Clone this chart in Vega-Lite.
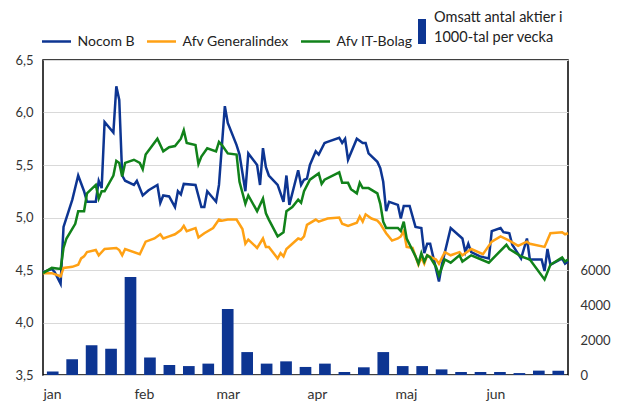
{
  "$schema": "https://vega.github.io/schema/vega-lite/v6.json",
  "width": 525,
  "height": 315,
  "autosize": {"type": "none"},
  "padding": {"left": 43, "top": 60, "right": 61, "bottom": 28},
  "background": "white",
  "config": {
    "view": {"stroke": "#000", "strokeWidth": 1.5},
    "font": "Lato",
    "axis": {"labelFont": "Lato", "labelFontSize": 13, "labelColor": "#333", "ticks": false, "domain": false, "titleFontSize": 0},
    "legend": {"labelFont": "Lato", "labelFontSize": 14.5, "labelColor": "#222"},
    "style": {"guide-label": {"lineHeight": 20}}
  },
  "datasets": {
    "vol": [
      {"w": 1, "n": 200}, {"w": 2, "n": 900}, {"w": 3, "n": 1700}, {"w": 4, "n": 1500}, {"w": 5, "n": 5600},
      {"w": 6, "n": 1000}, {"w": 7, "n": 570}, {"w": 8, "n": 510}, {"w": 9, "n": 650}, {"w": 10, "n": 3770},
      {"w": 11, "n": 1310}, {"w": 12, "n": 650}, {"w": 13, "n": 780}, {"w": 14, "n": 460}, {"w": 15, "n": 650},
      {"w": 16, "n": 170}, {"w": 17, "n": 440}, {"w": 18, "n": 1310}, {"w": 19, "n": 510}, {"w": 20, "n": 510},
      {"w": 21, "n": 320}, {"w": 22, "n": 170}, {"w": 23, "n": 170}, {"w": 24, "n": 170}, {"w": 25, "n": 110},
      {"w": 26, "n": 250}, {"w": 27, "n": 250}
    ],
    "kurs": [
      {"d": "2001-01-01", "s": "Nocom B", "v": 4.48},
      {"d": "2001-01-04", "s": "Nocom B", "v": 4.51},
      {"d": "2001-01-05", "s": "Nocom B", "v": 4.48},
      {"d": "2001-01-07", "s": "Nocom B", "v": 4.37},
      {"d": "2001-01-08", "s": "Nocom B", "v": 4.91},
      {"d": "2001-01-11", "s": "Nocom B", "v": 5.17},
      {"d": "2001-01-13", "s": "Nocom B", "v": 5.40},
      {"d": "2001-01-15", "s": "Nocom B", "v": 5.25},
      {"d": "2001-01-16", "s": "Nocom B", "v": 5.15},
      {"d": "2001-01-19", "s": "Nocom B", "v": 5.15},
      {"d": "2001-01-20", "s": "Nocom B", "v": 5.35},
      {"d": "2001-01-21", "s": "Nocom B", "v": 5.28},
      {"d": "2001-01-22", "s": "Nocom B", "v": 5.91},
      {"d": "2001-01-25", "s": "Nocom B", "v": 5.81},
      {"d": "2001-01-26", "s": "Nocom B", "v": 6.25},
      {"d": "2001-01-27", "s": "Nocom B", "v": 6.12},
      {"d": "2001-01-28", "s": "Nocom B", "v": 5.40},
      {"d": "2001-01-29", "s": "Nocom B", "v": 5.35},
      {"d": "2001-02-01", "s": "Nocom B", "v": 5.31},
      {"d": "2001-02-02", "s": "Nocom B", "v": 5.35},
      {"d": "2001-02-04", "s": "Nocom B", "v": 5.21},
      {"d": "2001-02-06", "s": "Nocom B", "v": 5.26},
      {"d": "2001-02-09", "s": "Nocom B", "v": 5.31},
      {"d": "2001-02-10", "s": "Nocom B", "v": 5.14},
      {"d": "2001-02-11", "s": "Nocom B", "v": 5.21},
      {"d": "2001-02-13", "s": "Nocom B", "v": 5.20},
      {"d": "2001-02-15", "s": "Nocom B", "v": 5.10},
      {"d": "2001-02-16", "s": "Nocom B", "v": 5.25},
      {"d": "2001-02-17", "s": "Nocom B", "v": 5.22},
      {"d": "2001-02-18", "s": "Nocom B", "v": 5.32},
      {"d": "2001-02-22", "s": "Nocom B", "v": 5.31},
      {"d": "2001-02-24", "s": "Nocom B", "v": 5.10},
      {"d": "2001-02-25", "s": "Nocom B", "v": 5.10},
      {"d": "2001-02-26", "s": "Nocom B", "v": 5.25},
      {"d": "2001-03-01", "s": "Nocom B", "v": 5.15},
      {"d": "2001-03-02", "s": "Nocom B", "v": 5.31},
      {"d": "2001-03-04", "s": "Nocom B", "v": 6.06},
      {"d": "2001-03-05", "s": "Nocom B", "v": 5.90},
      {"d": "2001-03-08", "s": "Nocom B", "v": 5.69},
      {"d": "2001-03-09", "s": "Nocom B", "v": 5.60},
      {"d": "2001-03-11", "s": "Nocom B", "v": 5.25},
      {"d": "2001-03-12", "s": "Nocom B", "v": 5.61},
      {"d": "2001-03-15", "s": "Nocom B", "v": 5.50},
      {"d": "2001-03-16", "s": "Nocom B", "v": 5.31},
      {"d": "2001-03-17", "s": "Nocom B", "v": 5.66},
      {"d": "2001-03-18", "s": "Nocom B", "v": 5.48},
      {"d": "2001-03-19", "s": "Nocom B", "v": 5.40},
      {"d": "2001-03-22", "s": "Nocom B", "v": 5.31},
      {"d": "2001-03-24", "s": "Nocom B", "v": 5.15},
      {"d": "2001-03-25", "s": "Nocom B", "v": 5.40},
      {"d": "2001-03-26", "s": "Nocom B", "v": 5.12},
      {"d": "2001-03-29", "s": "Nocom B", "v": 5.45},
      {"d": "2001-03-30", "s": "Nocom B", "v": 5.31},
      {"d": "2001-03-31", "s": "Nocom B", "v": 5.36},
      {"d": "2001-04-01", "s": "Nocom B", "v": 5.37},
      {"d": "2001-04-02", "s": "Nocom B", "v": 5.50},
      {"d": "2001-04-04", "s": "Nocom B", "v": 5.63},
      {"d": "2001-04-05", "s": "Nocom B", "v": 5.60},
      {"d": "2001-04-07", "s": "Nocom B", "v": 5.71},
      {"d": "2001-04-08", "s": "Nocom B", "v": 5.72},
      {"d": "2001-04-12", "s": "Nocom B", "v": 5.76},
      {"d": "2001-04-13", "s": "Nocom B", "v": 5.71},
      {"d": "2001-04-14", "s": "Nocom B", "v": 5.75},
      {"d": "2001-04-15", "s": "Nocom B", "v": 5.55},
      {"d": "2001-04-18", "s": "Nocom B", "v": 5.75},
      {"d": "2001-04-20", "s": "Nocom B", "v": 5.71},
      {"d": "2001-04-21", "s": "Nocom B", "v": 5.71},
      {"d": "2001-04-22", "s": "Nocom B", "v": 5.61},
      {"d": "2001-04-25", "s": "Nocom B", "v": 5.53},
      {"d": "2001-04-26", "s": "Nocom B", "v": 5.47},
      {"d": "2001-04-27", "s": "Nocom B", "v": 5.34},
      {"d": "2001-04-28", "s": "Nocom B", "v": 5.06},
      {"d": "2001-04-29", "s": "Nocom B", "v": 5.15},
      {"d": "2001-05-02", "s": "Nocom B", "v": 5.12},
      {"d": "2001-05-03", "s": "Nocom B", "v": 4.99},
      {"d": "2001-05-04", "s": "Nocom B", "v": 5.11},
      {"d": "2001-05-06", "s": "Nocom B", "v": 5.11},
      {"d": "2001-05-08", "s": "Nocom B", "v": 4.91},
      {"d": "2001-05-10", "s": "Nocom B", "v": 4.90},
      {"d": "2001-05-11", "s": "Nocom B", "v": 4.66},
      {"d": "2001-05-12", "s": "Nocom B", "v": 4.75},
      {"d": "2001-05-13", "s": "Nocom B", "v": 4.75},
      {"d": "2001-05-14", "s": "Nocom B", "v": 4.63},
      {"d": "2001-05-16", "s": "Nocom B", "v": 4.39},
      {"d": "2001-05-17", "s": "Nocom B", "v": 4.55},
      {"d": "2001-05-20", "s": "Nocom B", "v": 4.90},
      {"d": "2001-05-24", "s": "Nocom B", "v": 4.80},
      {"d": "2001-05-25", "s": "Nocom B", "v": 4.67},
      {"d": "2001-05-26", "s": "Nocom B", "v": 4.75},
      {"d": "2001-05-27", "s": "Nocom B", "v": 4.67},
      {"d": "2001-05-30", "s": "Nocom B", "v": 4.63},
      {"d": "2001-06-02", "s": "Nocom B", "v": 4.61},
      {"d": "2001-06-03", "s": "Nocom B", "v": 4.87},
      {"d": "2001-06-06", "s": "Nocom B", "v": 4.90},
      {"d": "2001-06-07", "s": "Nocom B", "v": 4.86},
      {"d": "2001-06-09", "s": "Nocom B", "v": 4.85},
      {"d": "2001-06-10", "s": "Nocom B", "v": 4.74},
      {"d": "2001-06-13", "s": "Nocom B", "v": 4.61},
      {"d": "2001-06-15", "s": "Nocom B", "v": 4.80},
      {"d": "2001-06-16", "s": "Nocom B", "v": 4.60},
      {"d": "2001-06-20", "s": "Nocom B", "v": 4.60},
      {"d": "2001-06-21", "s": "Nocom B", "v": 4.49},
      {"d": "2001-06-22", "s": "Nocom B", "v": 4.70},
      {"d": "2001-06-23", "s": "Nocom B", "v": 4.55},
      {"d": "2001-06-27", "s": "Nocom B", "v": 4.61},
      {"d": "2001-06-28", "s": "Nocom B", "v": 4.56},
      {"d": "2001-06-29", "s": "Nocom B", "v": 4.58},

      {"d": "2001-01-01", "s": "Afv Generalindex", "v": 4.47},
      {"d": "2001-01-04", "s": "Afv Generalindex", "v": 4.47},
      {"d": "2001-01-07", "s": "Afv Generalindex", "v": 4.44},
      {"d": "2001-01-08", "s": "Afv Generalindex", "v": 4.52},
      {"d": "2001-01-11", "s": "Afv Generalindex", "v": 4.53},
      {"d": "2001-01-13", "s": "Afv Generalindex", "v": 4.55},
      {"d": "2001-01-14", "s": "Afv Generalindex", "v": 4.61},
      {"d": "2001-01-15", "s": "Afv Generalindex", "v": 4.63},
      {"d": "2001-01-16", "s": "Afv Generalindex", "v": 4.67},
      {"d": "2001-01-19", "s": "Afv Generalindex", "v": 4.69},
      {"d": "2001-01-20", "s": "Afv Generalindex", "v": 4.64},
      {"d": "2001-01-22", "s": "Afv Generalindex", "v": 4.70},
      {"d": "2001-01-26", "s": "Afv Generalindex", "v": 4.71},
      {"d": "2001-01-27", "s": "Afv Generalindex", "v": 4.69},
      {"d": "2001-01-28", "s": "Afv Generalindex", "v": 4.64},
      {"d": "2001-01-29", "s": "Afv Generalindex", "v": 4.70},
      {"d": "2001-02-03", "s": "Afv Generalindex", "v": 4.65},
      {"d": "2001-02-05", "s": "Afv Generalindex", "v": 4.77},
      {"d": "2001-02-08", "s": "Afv Generalindex", "v": 4.80},
      {"d": "2001-02-10", "s": "Afv Generalindex", "v": 4.84},
      {"d": "2001-02-11", "s": "Afv Generalindex", "v": 4.80},
      {"d": "2001-02-13", "s": "Afv Generalindex", "v": 4.82},
      {"d": "2001-02-15", "s": "Afv Generalindex", "v": 4.84},
      {"d": "2001-02-17", "s": "Afv Generalindex", "v": 4.88},
      {"d": "2001-02-18", "s": "Afv Generalindex", "v": 4.92},
      {"d": "2001-02-19", "s": "Afv Generalindex", "v": 4.87},
      {"d": "2001-02-22", "s": "Afv Generalindex", "v": 4.90},
      {"d": "2001-02-23", "s": "Afv Generalindex", "v": 4.81},
      {"d": "2001-02-25", "s": "Afv Generalindex", "v": 4.85},
      {"d": "2001-02-28", "s": "Afv Generalindex", "v": 4.90},
      {"d": "2001-03-02", "s": "Afv Generalindex", "v": 4.98},
      {"d": "2001-03-03", "s": "Afv Generalindex", "v": 4.97},
      {"d": "2001-03-05", "s": "Afv Generalindex", "v": 4.98},
      {"d": "2001-03-08", "s": "Afv Generalindex", "v": 4.98},
      {"d": "2001-03-10", "s": "Afv Generalindex", "v": 4.89},
      {"d": "2001-03-11", "s": "Afv Generalindex", "v": 4.75},
      {"d": "2001-03-12", "s": "Afv Generalindex", "v": 4.79},
      {"d": "2001-03-15", "s": "Afv Generalindex", "v": 4.71},
      {"d": "2001-03-17", "s": "Afv Generalindex", "v": 4.80},
      {"d": "2001-03-18", "s": "Afv Generalindex", "v": 4.72},
      {"d": "2001-03-19", "s": "Afv Generalindex", "v": 4.72},
      {"d": "2001-03-22", "s": "Afv Generalindex", "v": 4.61},
      {"d": "2001-03-23", "s": "Afv Generalindex", "v": 4.66},
      {"d": "2001-03-24", "s": "Afv Generalindex", "v": 4.63},
      {"d": "2001-03-25", "s": "Afv Generalindex", "v": 4.70},
      {"d": "2001-03-29", "s": "Afv Generalindex", "v": 4.80},
      {"d": "2001-03-30", "s": "Afv Generalindex", "v": 4.79},
      {"d": "2001-03-31", "s": "Afv Generalindex", "v": 4.82},
      {"d": "2001-04-01", "s": "Afv Generalindex", "v": 4.93},
      {"d": "2001-04-04", "s": "Afv Generalindex", "v": 4.98},
      {"d": "2001-04-05", "s": "Afv Generalindex", "v": 4.96},
      {"d": "2001-04-08", "s": "Afv Generalindex", "v": 4.99},
      {"d": "2001-04-12", "s": "Afv Generalindex", "v": 5.00},
      {"d": "2001-04-13", "s": "Afv Generalindex", "v": 4.94},
      {"d": "2001-04-15", "s": "Afv Generalindex", "v": 4.92},
      {"d": "2001-04-18", "s": "Afv Generalindex", "v": 4.95},
      {"d": "2001-04-19", "s": "Afv Generalindex", "v": 5.01},
      {"d": "2001-04-20", "s": "Afv Generalindex", "v": 4.96},
      {"d": "2001-04-21", "s": "Afv Generalindex", "v": 5.03},
      {"d": "2001-04-23", "s": "Afv Generalindex", "v": 4.99},
      {"d": "2001-04-25", "s": "Afv Generalindex", "v": 4.97},
      {"d": "2001-04-26", "s": "Afv Generalindex", "v": 4.94},
      {"d": "2001-04-28", "s": "Afv Generalindex", "v": 4.85},
      {"d": "2001-04-30", "s": "Afv Generalindex", "v": 4.78},
      {"d": "2001-05-02", "s": "Afv Generalindex", "v": 4.80},
      {"d": "2001-05-03", "s": "Afv Generalindex", "v": 4.82},
      {"d": "2001-05-04", "s": "Afv Generalindex", "v": 4.87},
      {"d": "2001-05-05", "s": "Afv Generalindex", "v": 4.72},
      {"d": "2001-05-07", "s": "Afv Generalindex", "v": 4.71},
      {"d": "2001-05-09", "s": "Afv Generalindex", "v": 4.55},
      {"d": "2001-05-10", "s": "Afv Generalindex", "v": 4.62},
      {"d": "2001-05-11", "s": "Afv Generalindex", "v": 4.56},
      {"d": "2001-05-12", "s": "Afv Generalindex", "v": 4.64},
      {"d": "2001-05-15", "s": "Afv Generalindex", "v": 4.60},
      {"d": "2001-05-16", "s": "Afv Generalindex", "v": 4.56},
      {"d": "2001-05-18", "s": "Afv Generalindex", "v": 4.67},
      {"d": "2001-05-20", "s": "Afv Generalindex", "v": 4.64},
      {"d": "2001-05-23", "s": "Afv Generalindex", "v": 4.67},
      {"d": "2001-05-24", "s": "Afv Generalindex", "v": 4.64},
      {"d": "2001-05-27", "s": "Afv Generalindex", "v": 4.70},
      {"d": "2001-05-31", "s": "Afv Generalindex", "v": 4.65},
      {"d": "2001-06-03", "s": "Afv Generalindex", "v": 4.77},
      {"d": "2001-06-06", "s": "Afv Generalindex", "v": 4.82},
      {"d": "2001-06-09", "s": "Afv Generalindex", "v": 4.78},
      {"d": "2001-06-12", "s": "Afv Generalindex", "v": 4.73},
      {"d": "2001-06-15", "s": "Afv Generalindex", "v": 4.77},
      {"d": "2001-06-16", "s": "Afv Generalindex", "v": 4.75},
      {"d": "2001-06-21", "s": "Afv Generalindex", "v": 4.72},
      {"d": "2001-06-23", "s": "Afv Generalindex", "v": 4.85},
      {"d": "2001-06-27", "s": "Afv Generalindex", "v": 4.86},
      {"d": "2001-06-28", "s": "Afv Generalindex", "v": 4.84},
      {"d": "2001-06-29", "s": "Afv Generalindex", "v": 4.85},

      {"d": "2001-01-01", "s": "Afv IT-Bolag", "v": 4.47},
      {"d": "2001-01-04", "s": "Afv IT-Bolag", "v": 4.52},
      {"d": "2001-01-07", "s": "Afv IT-Bolag", "v": 4.51},
      {"d": "2001-01-08", "s": "Afv IT-Bolag", "v": 4.71},
      {"d": "2001-01-09", "s": "Afv IT-Bolag", "v": 4.80},
      {"d": "2001-01-12", "s": "Afv IT-Bolag", "v": 4.94},
      {"d": "2001-01-13", "s": "Afv IT-Bolag", "v": 5.06},
      {"d": "2001-01-15", "s": "Afv IT-Bolag", "v": 5.06},
      {"d": "2001-01-16", "s": "Afv IT-Bolag", "v": 5.23},
      {"d": "2001-01-19", "s": "Afv IT-Bolag", "v": 5.31},
      {"d": "2001-01-20", "s": "Afv IT-Bolag", "v": 5.18},
      {"d": "2001-01-21", "s": "Afv IT-Bolag", "v": 5.25},
      {"d": "2001-01-22", "s": "Afv IT-Bolag", "v": 5.25},
      {"d": "2001-01-25", "s": "Afv IT-Bolag", "v": 5.40},
      {"d": "2001-01-26", "s": "Afv IT-Bolag", "v": 5.54},
      {"d": "2001-01-27", "s": "Afv IT-Bolag", "v": 5.52},
      {"d": "2001-01-28", "s": "Afv IT-Bolag", "v": 5.39},
      {"d": "2001-01-29", "s": "Afv IT-Bolag", "v": 5.52},
      {"d": "2001-02-01", "s": "Afv IT-Bolag", "v": 5.55},
      {"d": "2001-02-03", "s": "Afv IT-Bolag", "v": 5.52},
      {"d": "2001-02-04", "s": "Afv IT-Bolag", "v": 5.46},
      {"d": "2001-02-05", "s": "Afv IT-Bolag", "v": 5.60},
      {"d": "2001-02-09", "s": "Afv IT-Bolag", "v": 5.75},
      {"d": "2001-02-11", "s": "Afv IT-Bolag", "v": 5.63},
      {"d": "2001-02-13", "s": "Afv IT-Bolag", "v": 5.67},
      {"d": "2001-02-15", "s": "Afv IT-Bolag", "v": 5.68},
      {"d": "2001-02-17", "s": "Afv IT-Bolag", "v": 5.75},
      {"d": "2001-02-18", "s": "Afv IT-Bolag", "v": 5.83},
      {"d": "2001-02-19", "s": "Afv IT-Bolag", "v": 5.71},
      {"d": "2001-02-22", "s": "Afv IT-Bolag", "v": 5.69},
      {"d": "2001-02-23", "s": "Afv IT-Bolag", "v": 5.51},
      {"d": "2001-02-24", "s": "Afv IT-Bolag", "v": 5.58},
      {"d": "2001-02-26", "s": "Afv IT-Bolag", "v": 5.66},
      {"d": "2001-03-01", "s": "Afv IT-Bolag", "v": 5.63},
      {"d": "2001-03-02", "s": "Afv IT-Bolag", "v": 5.72},
      {"d": "2001-03-03", "s": "Afv IT-Bolag", "v": 5.69},
      {"d": "2001-03-05", "s": "Afv IT-Bolag", "v": 5.61},
      {"d": "2001-03-08", "s": "Afv IT-Bolag", "v": 5.60},
      {"d": "2001-03-09", "s": "Afv IT-Bolag", "v": 5.34},
      {"d": "2001-03-11", "s": "Afv IT-Bolag", "v": 5.13},
      {"d": "2001-03-12", "s": "Afv IT-Bolag", "v": 5.21},
      {"d": "2001-03-15", "s": "Afv IT-Bolag", "v": 5.06},
      {"d": "2001-03-17", "s": "Afv IT-Bolag", "v": 5.18},
      {"d": "2001-03-18", "s": "Afv IT-Bolag", "v": 5.04},
      {"d": "2001-03-19", "s": "Afv IT-Bolag", "v": 4.98},
      {"d": "2001-03-22", "s": "Afv IT-Bolag", "v": 4.82},
      {"d": "2001-03-24", "s": "Afv IT-Bolag", "v": 4.86},
      {"d": "2001-03-25", "s": "Afv IT-Bolag", "v": 5.06},
      {"d": "2001-03-27", "s": "Afv IT-Bolag", "v": 5.10},
      {"d": "2001-03-29", "s": "Afv IT-Bolag", "v": 5.17},
      {"d": "2001-03-30", "s": "Afv IT-Bolag", "v": 5.14},
      {"d": "2001-03-31", "s": "Afv IT-Bolag", "v": 5.25},
      {"d": "2001-04-02", "s": "Afv IT-Bolag", "v": 5.36},
      {"d": "2001-04-05", "s": "Afv IT-Bolag", "v": 5.42},
      {"d": "2001-04-06", "s": "Afv IT-Bolag", "v": 5.32},
      {"d": "2001-04-07", "s": "Afv IT-Bolag", "v": 5.36},
      {"d": "2001-04-12", "s": "Afv IT-Bolag", "v": 5.43},
      {"d": "2001-04-13", "s": "Afv IT-Bolag", "v": 5.33},
      {"d": "2001-04-15", "s": "Afv IT-Bolag", "v": 5.33},
      {"d": "2001-04-16", "s": "Afv IT-Bolag", "v": 5.27},
      {"d": "2001-04-18", "s": "Afv IT-Bolag", "v": 5.23},
      {"d": "2001-04-19", "s": "Afv IT-Bolag", "v": 5.33},
      {"d": "2001-04-20", "s": "Afv IT-Bolag", "v": 5.28},
      {"d": "2001-04-22", "s": "Afv IT-Bolag", "v": 5.28},
      {"d": "2001-04-25", "s": "Afv IT-Bolag", "v": 5.23},
      {"d": "2001-04-26", "s": "Afv IT-Bolag", "v": 5.13},
      {"d": "2001-04-27", "s": "Afv IT-Bolag", "v": 4.96},
      {"d": "2001-04-28", "s": "Afv IT-Bolag", "v": 4.90},
      {"d": "2001-05-02", "s": "Afv IT-Bolag", "v": 4.90},
      {"d": "2001-05-03", "s": "Afv IT-Bolag", "v": 4.87},
      {"d": "2001-05-04", "s": "Afv IT-Bolag", "v": 4.96},
      {"d": "2001-05-05", "s": "Afv IT-Bolag", "v": 4.80},
      {"d": "2001-05-08", "s": "Afv IT-Bolag", "v": 4.63},
      {"d": "2001-05-09", "s": "Afv IT-Bolag", "v": 4.56},
      {"d": "2001-05-10", "s": "Afv IT-Bolag", "v": 4.66},
      {"d": "2001-05-11", "s": "Afv IT-Bolag", "v": 4.58},
      {"d": "2001-05-12", "s": "Afv IT-Bolag", "v": 4.64},
      {"d": "2001-05-13", "s": "Afv IT-Bolag", "v": 4.62},
      {"d": "2001-05-15", "s": "Afv IT-Bolag", "v": 4.53},
      {"d": "2001-05-16", "s": "Afv IT-Bolag", "v": 4.45},
      {"d": "2001-05-18", "s": "Afv IT-Bolag", "v": 4.60},
      {"d": "2001-05-20", "s": "Afv IT-Bolag", "v": 4.57},
      {"d": "2001-05-23", "s": "Afv IT-Bolag", "v": 4.64},
      {"d": "2001-05-24", "s": "Afv IT-Bolag", "v": 4.58},
      {"d": "2001-05-27", "s": "Afv IT-Bolag", "v": 4.64},
      {"d": "2001-06-02", "s": "Afv IT-Bolag", "v": 4.57},
      {"d": "2001-06-08", "s": "Afv IT-Bolag", "v": 4.74},
      {"d": "2001-06-09", "s": "Afv IT-Bolag", "v": 4.70},
      {"d": "2001-06-13", "s": "Afv IT-Bolag", "v": 4.63},
      {"d": "2001-06-16", "s": "Afv IT-Bolag", "v": 4.60},
      {"d": "2001-06-21", "s": "Afv IT-Bolag", "v": 4.41},
      {"d": "2001-06-23", "s": "Afv IT-Bolag", "v": 4.55},
      {"d": "2001-06-27", "s": "Afv IT-Bolag", "v": 4.62},
      {"d": "2001-06-28", "s": "Afv IT-Bolag", "v": 4.58},
      {"d": "2001-06-29", "s": "Afv IT-Bolag", "v": 4.60}
    ]
  },
  "layer": [
    {
      "data": {"name": "vol"},
      "mark": {"type": "bar", "color": "#0d3592"},
      "encoding": {
        "x": {"field": "w", "type": "ordinal", "axis": null, "scale": {"paddingInner": 0.4, "paddingOuter": 0.2}},
        "y": {
          "field": "n", "type": "quantitative",
          "scale": {"domain": [0, 18000], "nice": false},
          "axis": {"orient": "right", "values": [0, 2000, 4000, 6000], "format": "d", "grid": false, "labelPadding": 12, "title": null}
        },
        "fill": {
          "datum": "Omsatt antal aktier i 1000-tal per vecka",
          "type": "nominal",
          "scale": {"range": ["#0d3592"]},
          "legend": {
            "orient": "none", "legendX": 366, "legendY": -54.5, "title": null,
            "symbolType": "M-0.28,0.08L0.36,0.08L0.36,2.08L-0.28,2.08Z", "symbolSize": 625, "symbolStrokeWidth": 0,
            "labelOffset": 0, "labelLimit": 300,
            "labelExpr": "['Omsatt antal aktier i', '1000-tal per vecka']"
          }
        }
      }
    },
    {
      "data": {"name": "kurs"},
      "mark": {"type": "line", "strokeWidth": 2.5},
      "encoding": {
        "x": {
          "field": "d", "type": "temporal",
          "scale": {"type": "utc", "domain": [{"year": 2001, "month": 1, "date": 1, "utc": true}, {"year": 2001, "month": 6, "date": 29, "utc": true}]},
          "axis": {
            "title": null, "grid": false, "labelAlign": "left", "labelPadding": 12, "labelFontSize": 14,
            "values": [
              {"year": 2001, "month": 1, "date": 1, "utc": true},
              {"year": 2001, "month": 2, "date": 1, "utc": true},
              {"year": 2001, "month": 3, "date": 1, "utc": true},
              {"year": 2001, "month": 4, "date": 1, "utc": true},
              {"year": 2001, "month": 5, "date": 1, "utc": true},
              {"year": 2001, "month": 6, "date": 1, "utc": true}
            ],
            "labelExpr": "['jan','feb','mar','apr','maj','jun'][utcmonth(datum.value)]"
          }
        },
        "y": {
          "field": "v", "type": "quantitative",
          "scale": {"domain": [3.5, 6.5], "nice": false, "zero": false},
          "axis": {
            "orient": "left", "title": null, "values": [3.5, 4, 4.5, 5, 5.5, 6, 6.5],
            "grid": true, "gridColor": "#d9d9d9", "gridWidth": 1, "labelPadding": 10,
            "labelExpr": "replace(format(datum.value, '.1f'), '.', ',')"
          }
        },
        "color": {
          "field": "s", "type": "nominal",
          "scale": {"domain": ["Nocom B", "Afv Generalindex", "Afv IT-Bolag"], "range": ["#0d3592", "#ffa114", "#11821a"]},
          "legend": {
            "orient": "none", "direction": "horizontal", "legendX": -2.5, "legendY": -34.5, "title": null,
            "symbolType": "stroke", "symbolSize": 841, "symbolStrokeWidth": 2.5,
            "labelOffset": 5, "columnPadding": 6, "labelLimit": 200, "labelFontSize": 14
          }
        }
      }
    }
  ],
  "resolve": {"scale": {"x": "independent", "y": "independent", "color": "independent"}}
}
